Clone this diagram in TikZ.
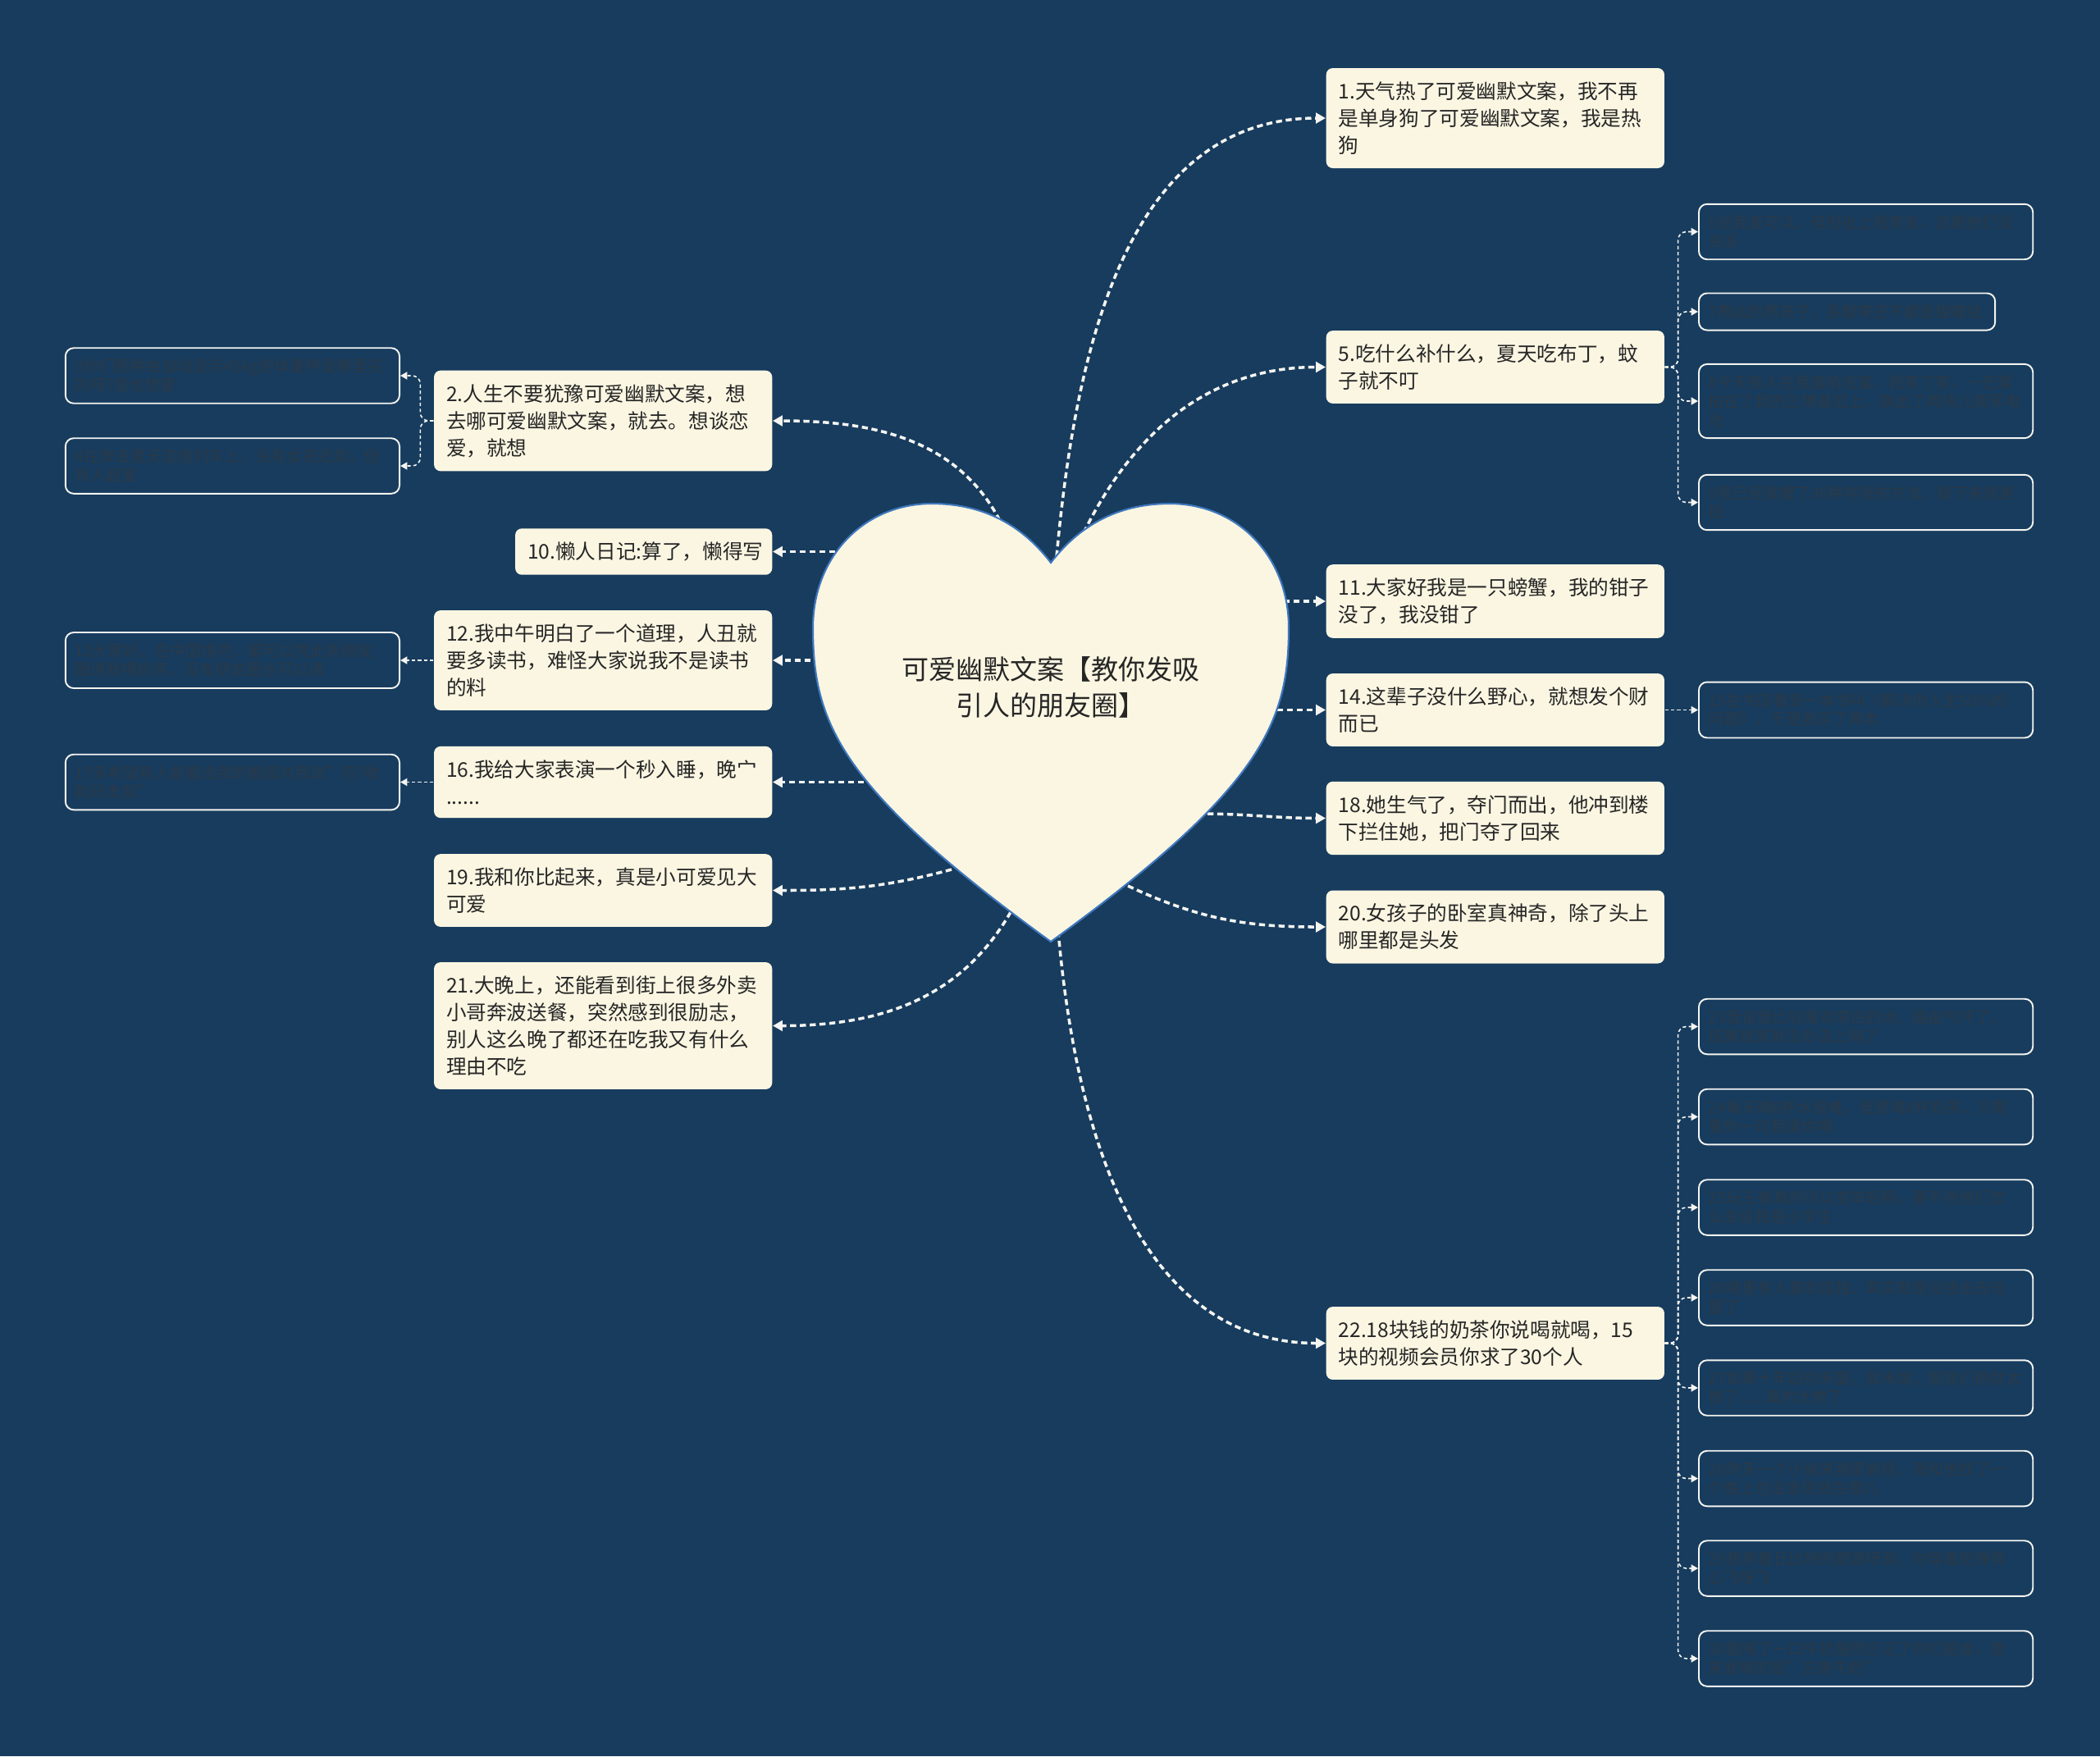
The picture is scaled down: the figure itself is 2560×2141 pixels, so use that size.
\documentclass[tikz,border=0pt]{standalone}
\usepackage{fontspec}
\setmainfont{Noto Sans CJK SC}
\usepackage{xcolor}
\usepackage{tikz}
\usetikzlibrary{arrows.meta}
\definecolor{bgblue}{HTML}{173C5E}
\definecolor{cream}{HTML}{FBF6E2}
\definecolor{heartline}{HTML}{3F78BE}
\definecolor{inktext}{HTML}{262626}
\definecolor{dimtext}{HTML}{2B3A48}
\definecolor{linkwhite}{HTML}{F4F4F0}

\begin{document}
\begin{tikzpicture}[x=0.01cm, y=-0.01cm]
                \tikzstyle{topic} = [rectangle, rounded corners=0.08cm, fill=cream, text=inktext, text width=3.82cm, align=left, inner xsep=0.15cm, inner ysep=0.165cm, font=\fontsize{7pt}{9.4pt}\selectfont]
                \tikzstyle{leaf} = [rectangle, rounded corners=0.1cm, draw=linkwhite, line width=0.55pt, text=dimtext, text width=3.83cm, align=left, inner xsep=0.12cm, inner ysep=0.135cm, font=\fontsize{5.4pt}{6.5pt}\selectfont]
                \tikzstyle{dashlink} = [draw=linkwhite, line width=1pt, dash pattern=on 2.1pt off 1.3pt, -{Triangle[length=3.4pt, width=3.6pt]}]
                \tikzstyle{leaflink} = [draw=linkwhite, line width=0.45pt, dash pattern=on 1.2pt off 0.9pt, rounded corners=0.1cm, -{Triangle[length=2.4pt, width=2.6pt]}]

                \useasboundingbox (0,0) rectangle (2560,2141);
                \fill[bgblue] (0,0) rectangle (2560,2141);

                \node (n1) [topic, anchor=west] at (1616,144) {1.天气热了可爱幽默文案，我不再\\是单身狗了可爱幽默文案，我是热\\狗};
                \node (n5) [topic, anchor=west] at (1616,447.5) {5.吃什么补什么，夏天吃布丁，蚊\\子就不叮};
                \node (n11) [topic, anchor=west] at (1616,733) {11.大家好我是一只螃蟹，我的钳子\\没了，我没钳了};
                \node (n14) [topic, anchor=west] at (1616,865.5) {14.这辈子没什么野心，就想发个财\\而已};
                \node (n18) [topic, anchor=west] at (1616,997.5) {18.她生气了，夺门而出，他冲到楼\\下拦住她，把门夺了回来};
                \node (n20) [topic, anchor=west] at (1616,1130) {20.女孩子的卧室真神奇，除了头上\\哪里都是头发};
                \node (n22) [topic, anchor=west] at (1616,1637.5) {22.18块钱的奶茶你说喝就喝，15\\块的视频会员你求了30个人};

                \node (n2) [topic, anchor=east] at (942,513) {2.人生不要犹豫可爱幽默文案，想\\去哪可爱幽默文案，就去。想谈恋\\爱，就想};
                \node (n10) [topic, anchor=east, text width=2.83cm] at (942,672.5) {10.懒人日记:算了，懒得写};
                \node (n12) [topic, anchor=east] at (942,805) {12.我中午明白了一个道理，人丑就\\要多读书，难怪大家说我不是读书\\的料};
                \node (n16) [topic, anchor=east] at (942,953.5) {16.我给大家表演一个秒入睡，晚宀\\......};
                \node (n19) [topic, anchor=east] at (942,1085.5) {19.我和你比起来，真是小可爱见大\\可爱};
                \node (n21) [topic, anchor=east] at (942,1250.5) {21.大晚上，还能看到街上很多外卖\\小哥奔波送餐，突然感到很励志，\\别人这么晚了都还在吃我又有什么\\理由不吃};

                \node (l6) [leaf, anchor=west] at (2070,282.5) {6说我差可以，但别扯上我男友，这跟他们没\\关系};
                \node (l7) [leaf, anchor=west, text width=3.37cm] at (2070,380) {7再凶的男孩子，系鞋带还不都是蝴蝶结};
                \node (l8) [leaf, anchor=west] at (2070,489) {8今天有人在我面前炫富，我笑了笑，一巴掌\\拍在了我的兰博基尼上，崩出了两块儿南孚电\\池};
                \node (l9) [leaf, anchor=west] at (2070,612.5) {9我已经掌握了36种存钱的方法，接下来就差\\钱};
                \node (l15) [leaf, anchor=west] at (2070,865.5) {15在书店看到一本书叫《解决你人生50\%的\\问题》，于是我买了两本};
                \node (l23) [leaf, anchor=west] at (2070,1251.5) {23我说我比较喜欢李白的诗，路由气坏了，\\结果我家就没办法上网了};
                \node (l24) [leaf, anchor=west] at (2070,1361.5) {24每天喝8杯水很难，但是喝8杯奶茶，只需\\要你一句我请你喝};
                \node (l25) [leaf, anchor=west] at (2070,1472) {25玩王者真的可以变年轻啊，要不然他们怎\\么会说我是小学生};
                \node (l26) [leaf, anchor=west] at (2070,1582) {26哪里有人喜欢孤独，其实就是没钱出去玩\\罢了};
                \node (l27) [leaf, anchor=west] at (2070,1692) {27如果十年后你未娶，我未嫁，那我们俩就太\\惨了......真的太惨了};
                \node (l28) [leaf, anchor=west] at (2070,1802.5) {28昨天一个小偷来我家偷钱，我和他找了一\\个晚上也没发现钱在哪儿};
                \node (l29) [leaf, anchor=west] at (2070,1912) {29我举着丘比特的箭游呀游，你穿着防弹背\\心飞呀飞};
                \node (l30) [leaf, anchor=west] at (2070,2022) {30我喝了一口牛奶居然忘记了你们是谁，原\\来我喝的是"忘崽牛奶"};

                \node (l3) [leaf, anchor=east] at (488,458) {3你们那种会自动显示45kg的体重秤是哪里买\\的呀?我也想要};
                \node (l4) [leaf, anchor=east] at (488,568) {4在奔去夏天这趟列车上，没有女孩迟到，但\\有人超重};
                \node (l13) [leaf, anchor=east] at (488,805) {13大家好，在中国境内，都可以凭此条朋友\\圈请我喝奶茶，没有朋友圈也可以请};
                \node (l17) [leaf, anchor=east] at (488,953.5) {17多希望有人能看出我的脆弱对我说"穷?收\\款码发我"};

                \foreach \leafname in {l6,l7,l8,l9}
                    \draw [leaflink] (n5.east) -- ++(16,0) |- (\leafname.west);
                \draw [leaflink] (n14.east) -- (l15.west);
                \foreach \leafname in {l23,l24,l25,l26,l27,l28,l29,l30}
                    \draw [leaflink] (n22.east) -- ++(16,0) |- (\leafname.west);
                \foreach \leafname in {l3,l4}
                    \draw [leaflink] (n2.west) -- ++(-16,0) |- (\leafname.east);
                \draw [leaflink] (n12.west) -- (l13.east);
                \draw [leaflink] (n16.west) -- (l17.east);

                \coordinate (h1) at (1287,690);
                \coordinate (h5) at (1316,660);
                \coordinate (h11) at (1565,733);
                \coordinate (h14) at (1545,865.5);
                \coordinate (h18) at (1460,992);
                \coordinate (h20) at (1375,1080);
                \coordinate (h22) at (1290,1135);
                \coordinate (h2) at (1224,645);
                \coordinate (h10) at (1030,672.5);
                \coordinate (h12) at (1000,805);
                \coordinate (h16) at (1065,953.5);
                \coordinate (h19) at (1160,1060);
                \coordinate (h21) at (1232,1112);

                \draw [dashlink] (h1) to[out=85, in=180] (n1.west);
                \draw [dashlink] (h5) to[out=65, in=180] (n5.west);
                \draw [dashlink] (h11) -- (n11.west);
                \draw [dashlink] (h14) -- (n14.west);
                \draw [dashlink] (h18) to[out=0, in=180] (n18.west);
                \draw [dashlink] (h20) to[out=-25, in=180] (n20.west);
                \draw [dashlink] (h22) to[out=-85, in=180] (n22.west);
                \draw [dashlink] (h2) to[out=115, in=0] (n2.east);
                \draw [dashlink] (h10) -- (n10.east);
                \draw [dashlink] (h12) -- (n12.east);
                \draw [dashlink] (h16) -- (n16.east);
                \draw [dashlink] (h19) to[out=195, in=0] (n19.east);
                \draw [dashlink] (h21) to[out=240, in=0] (n21.east);

                \draw [fill=cream, draw=heartline, line width=0.6pt] (1281,686) .. controls (1320,635) and (1370,614) .. (1426,614) .. controls (1510,614) and (1571,680) .. (1571,765) .. controls (1571,880) and (1540,960) .. (1281,1148) .. controls (1022,960) and (991,880) .. (991,765) .. controls (991,680) and (1052,614) .. (1136,614) .. controls (1192,614) and (1242,635) .. (1281,686) -- cycle;
                \node (title) [align=center, text=inktext, font=\fontsize{9.4pt}{12.5pt}\selectfont] at (1281,838) {可爱幽默文案【教你发吸\\引人的朋友圈】};
            \end{tikzpicture}
\end{document}
